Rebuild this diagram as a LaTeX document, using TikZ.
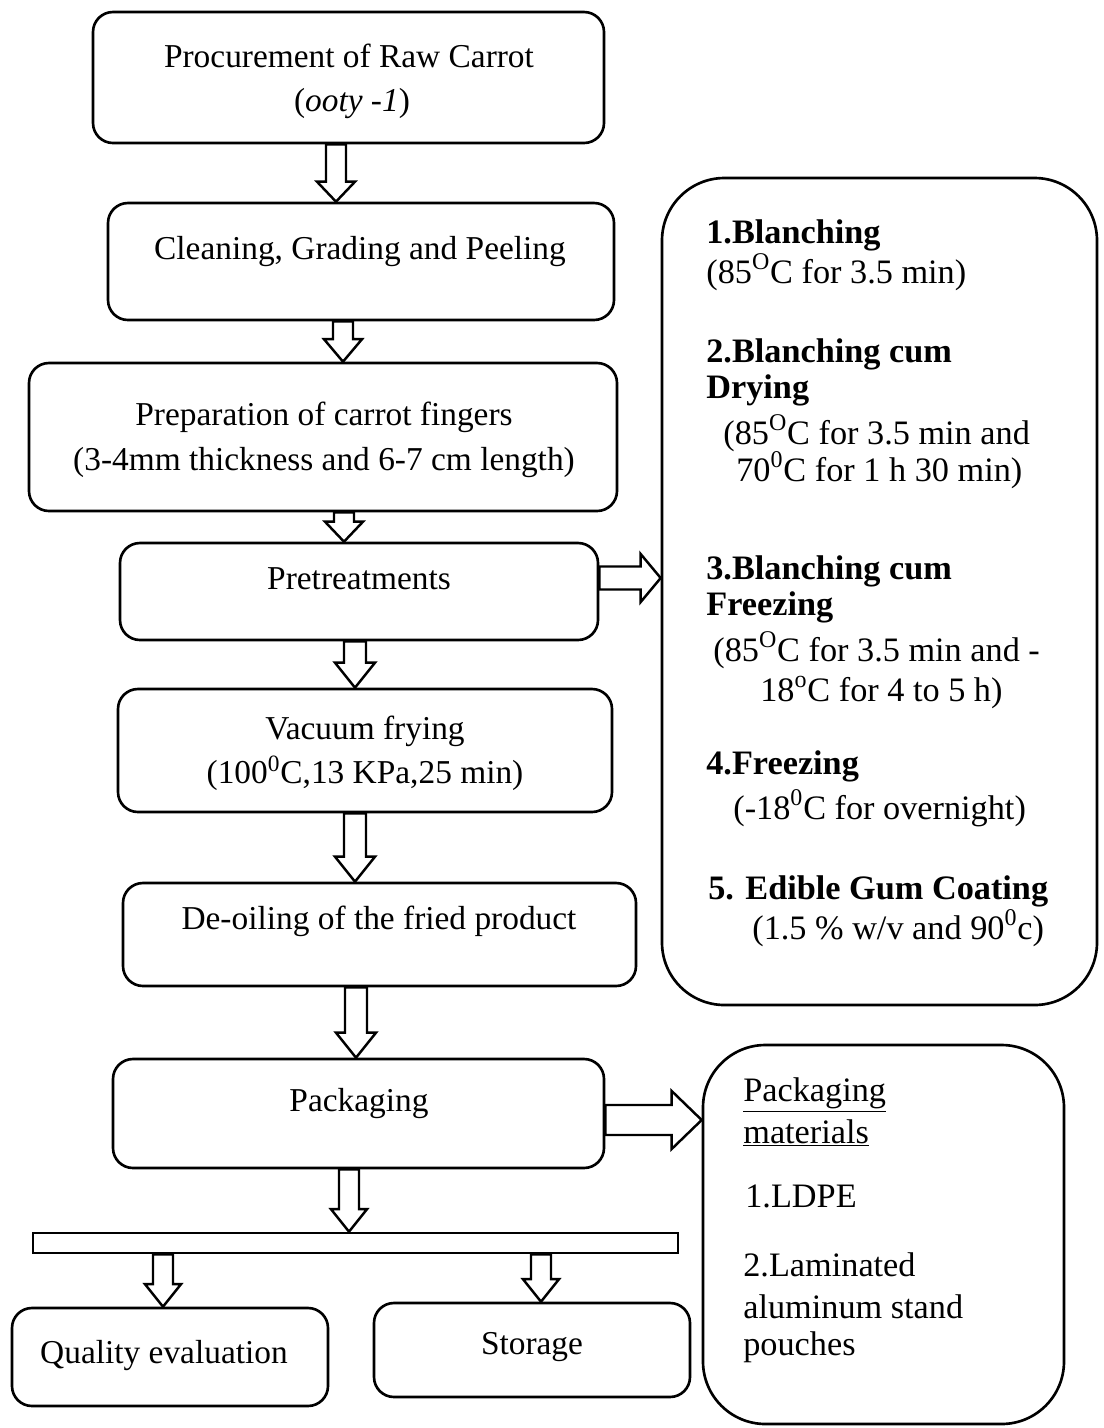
\documentclass[tikz,border=0pt]{standalone}
\usepackage{fontspec}
\setmainfont{Liberation Serif}
\usetikzlibrary{fit,calc}
\tikzset{
  box/.style={draw, line width=1.5pt, rounded corners=0.4cm, inner sep=0pt},
  bigbox/.style={draw, line width=1.5pt, rounded corners=1.25cm, inner sep=0pt},
  bar/.style={draw, line width=1.5pt, inner sep=0pt},
  txt/.style={anchor=base, inner sep=0pt, font=\fontsize{19}{23}\selectfont},
  rtxt/.style={anchor=base west, inner sep=0pt, font=\fontsize{19.5}{23}\selectfont},
  blk/.style={draw, line width=1.4pt, fill=white, line join=miter}
}
\newcommand\blkdown[6]{%
  \draw[blk] let \p1=(#1.south), \p2=(#2.north), \p3=(#3,0) in
   (\x3-#4,\y1) -- (\x3+#4,\y1) -- (\x3+#4,\y2+#6) -- (\x3+#5,\y2+#6) -- (\x3,\y2)
   -- (\x3-#5,\y2+#6) -- (\x3-#4,\y2+#6) -- cycle;}
\newcommand\blkright[6]{%
  \draw[blk] let \p1=(#1.east), \p2=(#2.west), \p3=(0,#3) in
   (\x1,\y3+#4) -- (\x2-#6,\y3+#4) -- (\x2-#6,\y3+#5) -- (\x2,\y3)
   -- (\x2-#6,\y3-#5) -- (\x2-#6,\y3-#4) -- (\x1,\y3-#4) -- cycle;}
\begin{document}
\begin{tikzpicture}[x=0.02cm,y=-0.02cm]
\useasboundingbox (0,0) rectangle (1104,1428);
% process boxes
\node[box, fit={(93,12) (604,143)}] (b1) {};
\node[box, fit={(108,203) (614,320)}] (b2) {};
\node[box, fit={(29,363) (617,511)}] (b3) {};
\node[box, fit={(120,543) (598,640)}] (b4) {};
\node[box, fit={(118,689) (612,812)}] (b5) {};
\node[box, fit={(123,883) (636,986)}] (b6) {};
\node[box, fit={(113,1059) (604,1168)}] (b7) {};
\node[bar, fit={(33,1233) (678,1253)}] (bar) {};
\node[box, fit={(12,1308) (328,1406)}] (q) {};
\node[box, fit={(374,1303) (690,1397)}] (s) {};
% side boxes
\node[bigbox, fit={(662,178) (1097,1005)}] (r1) {};
\node[bigbox, fit={(703,1045) (1064,1424)}] (r2) {};
% texts
\node[txt] (t1a) at (349,67) {Procurement of Raw Carrot};
\node[txt] (t1b) at (352,111) {(\textit{ooty -1})};
\node[txt] (t2) at (360,259) {Cleaning, Grading and Peeling};
\node[txt] (t3a) at (324,425) {Preparation of carrot fingers};
\node[txt] (t3b) at (324,470) {(3-4mm thickness and 6-7 cm length)};
\node[txt] (t4) at (359,589) {Pretreatments};
\node[txt] (t5a) at (365,739) {Vacuum frying};
\node[txt] (t5b) at (365,783) {(100\textsuperscript{0}C,13 KPa,25 min)};
\node[txt] (t6) at (379,929) {De-oiling of the fried product};
\node[txt] (t7) at (359,1111) {Packaging};
\node[txt] (tq) at (164,1363) {Quality evaluation};
\node[txt] (ts) at (532,1354) {Storage};
% right box 1
\node[rtxt] (r1a) at (706,243) {\textbf{1.Blanching}};
\node[rtxt] (r1b) at (706,283) {(85\textsuperscript{O}C for 3.5 min)};
\node[rtxt] (r2a) at (706,362) {\textbf{2.Blanching cum}};
\node[rtxt] (r2b) at (706,398) {\textbf{Drying}};
\node[rtxt] (r2c) at (723,444) {(85\textsuperscript{O}C for 3.5 min and};
\node[rtxt] (r2d) at (736,481) {70\textsuperscript{0}C for 1 h 30 min)};
\node[rtxt] (r3a) at (706,579) {\textbf{3.Blanching cum}};
\node[rtxt] (r3b) at (706,615) {\textbf{Freezing}};
\node[rtxt] (r3c) at (713,661) {(85\textsuperscript{O}C for 3.5 min and -};
\node[rtxt] (r3d) at (760,701) {18\textsuperscript{o}C for 4 to 5 h)};
\node[rtxt] (r4a) at (706,774) {\textbf{4.Freezing}};
\node[rtxt] (r4b) at (733,819) {(-18\textsuperscript{0}C for overnight)};
\node[rtxt] (r5a) at (708,899) {\textbf{5. Edible Gum Coating}};
\node[rtxt] (r5b) at (752,939) {(1.5 \% w/v and 90\textsuperscript{0}c)};
% right box 2
\node[rtxt] (p1) at (743,1101) {\underline{Packaging}};
\node[rtxt] (p2) at (743,1143) {\underline{materials}};
\node[rtxt] (p3) at (745,1207) {1.LDPE};
\node[rtxt] (p4) at (743,1276) {2.Laminated};
\node[rtxt] (p5) at (743,1318) {aluminum stand};
\node[rtxt] (p6) at (743,1355) {pouches};
% block arrows
\blkdown{b1}{b2}{336}{0.2cm}{0.38cm}{0.4cm}
\blkdown{b2}{b3}{343}{0.2cm}{0.38cm}{0.45cm}
\blkdown{b3}{b4}{344}{0.2cm}{0.38cm}{0.4cm}
\blkdown{b4}{b5}{355}{0.22cm}{0.4cm}{0.5cm}
\blkdown{b5}{b6}{355}{0.22cm}{0.4cm}{0.5cm}
\blkdown{b6}{b7}{356}{0.22cm}{0.4cm}{0.5cm}
\blkdown{b7}{bar}{349}{0.2cm}{0.36cm}{0.45cm}
\blkdown{bar}{q}{163}{0.2cm}{0.36cm}{0.45cm}
\blkdown{bar}{s}{541}{0.2cm}{0.36cm}{0.45cm}
\blkright{b4}{r1}{578}{0.23cm}{0.48cm}{0.4cm}
\blkright{b7}{r2}{1120}{0.3cm}{0.58cm}{0.6cm}
\end{tikzpicture}
\end{document}
